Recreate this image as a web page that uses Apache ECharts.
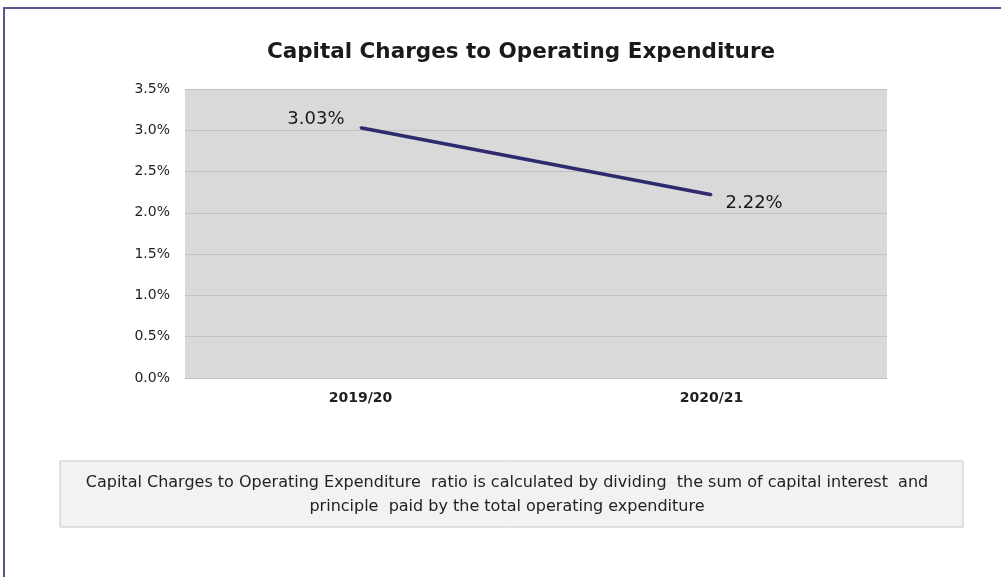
<!DOCTYPE html>
<html>
<head>
<meta charset="utf-8">
<script src="https://cdn.jsdelivr.net/npm/echarts@6/dist/echarts.min.js"></script>
<style>
html,body{margin:0;padding:0;background:#fff;}
#chart{width:1001px;height:577px;}
</style>
</head>
<body>
<div id="chart"></div>
<script>
const titleText = 'Capital Charges to Operating Expenditure';
const categories = ['2019/20', '2020/21'];
const ratioValues = [3.03, 2.22];
const yTicks = ['0.0%', '0.5%', '1.0%', '1.5%', '2.0%', '2.5%', '3.0%', '3.5%'];
const noteLines = [
  'Capital Charges to Operating Expenditure  ratio is calculated by dividing  the sum of capital interest  and',
  'principle  paid by the total operating expenditure'
];

const labelPlacement = [
  {position: 'left', distance: 15, offset: [0, -8]},
  {position: 'right', distance: 13, offset: [0, 9]}
];

const chart = echarts.init(document.getElementById('chart'), null, {renderer: 'canvas'});
const option = {
  backgroundColor: '#ffffff',
  animation: false,
  title: {
    text: titleText,
    left: 516,
    textAlign: 'center',
    top: 36,
    textStyle: {fontFamily: 'DejaVu Sans', fontWeight: 'bold', fontSize: 21.5, color: '#1a1a1a'}
  },
  grid: {left: 185, right: 114, top: 89, bottom: 199, show: true, backgroundColor: '#d9d9d9', borderWidth: 0},
  xAxis: {
    type: 'category',
    data: categories,
    boundaryGap: true,
    axisLine: {show: false},
    axisTick: {show: false},
    axisLabel: {margin: 13, fontFamily: 'DejaVu Sans', fontWeight: 'bold', fontSize: 14, color: '#1f1f1f'}
  },
  yAxis: {
    type: 'value',
    min: 0,
    max: 3.5,
    interval: 0.5,
    axisLine: {show: false},
    axisTick: {show: false},
    splitLine: {lineStyle: {color: '#c2c2c2', width: 1}},
    axisLabel: {
      margin: 15,
      fontFamily: 'DejaVu Sans', fontSize: 14, color: '#1f1f1f',
      formatter: function (v) { return yTicks[Math.round(v / 0.5)]; }
    }
  },
  series: [{
    type: 'line',
    data: ratioValues.map(function (v, i) {
      return {value: v, label: labelPlacement[i]};
    }),
    symbol: 'circle',
    symbolSize: 2,
    itemStyle: {color: '#2d2a6e'},
    lineStyle: {color: '#2d2a6e', width: 3.5},
    label: {
      show: true,
      fontFamily: 'DejaVu Sans', fontSize: 18, color: '#1a1a1a',
      formatter: function (p) { return p.value.toFixed(2) + '%'; }
    }
  }],
  graphic: [
    {type: 'rect', shape: {x: 4, y: 8, width: 1010, height: 590}, style: {fill: 'none', stroke: '#5b5290', lineWidth: 2}},
    {type: 'rect', shape: {x: 60, y: 461, width: 903, height: 66}, style: {fill: '#f2f2f2', stroke: '#c8c8c8', lineWidth: 1}},
    {type: 'text', x: 507, y: 483, style: {text: noteLines[0], fontFamily: 'DejaVu Sans', fontSize: 16, fill: '#222', align: 'center', verticalAlign: 'middle'}},
    {type: 'text', x: 507, y: 507, style: {text: noteLines[1], fontFamily: 'DejaVu Sans', fontSize: 16, fill: '#222', align: 'center', verticalAlign: 'middle'}}
  ]
};
chart.setOption(option);
</script>
</body>
</html>
